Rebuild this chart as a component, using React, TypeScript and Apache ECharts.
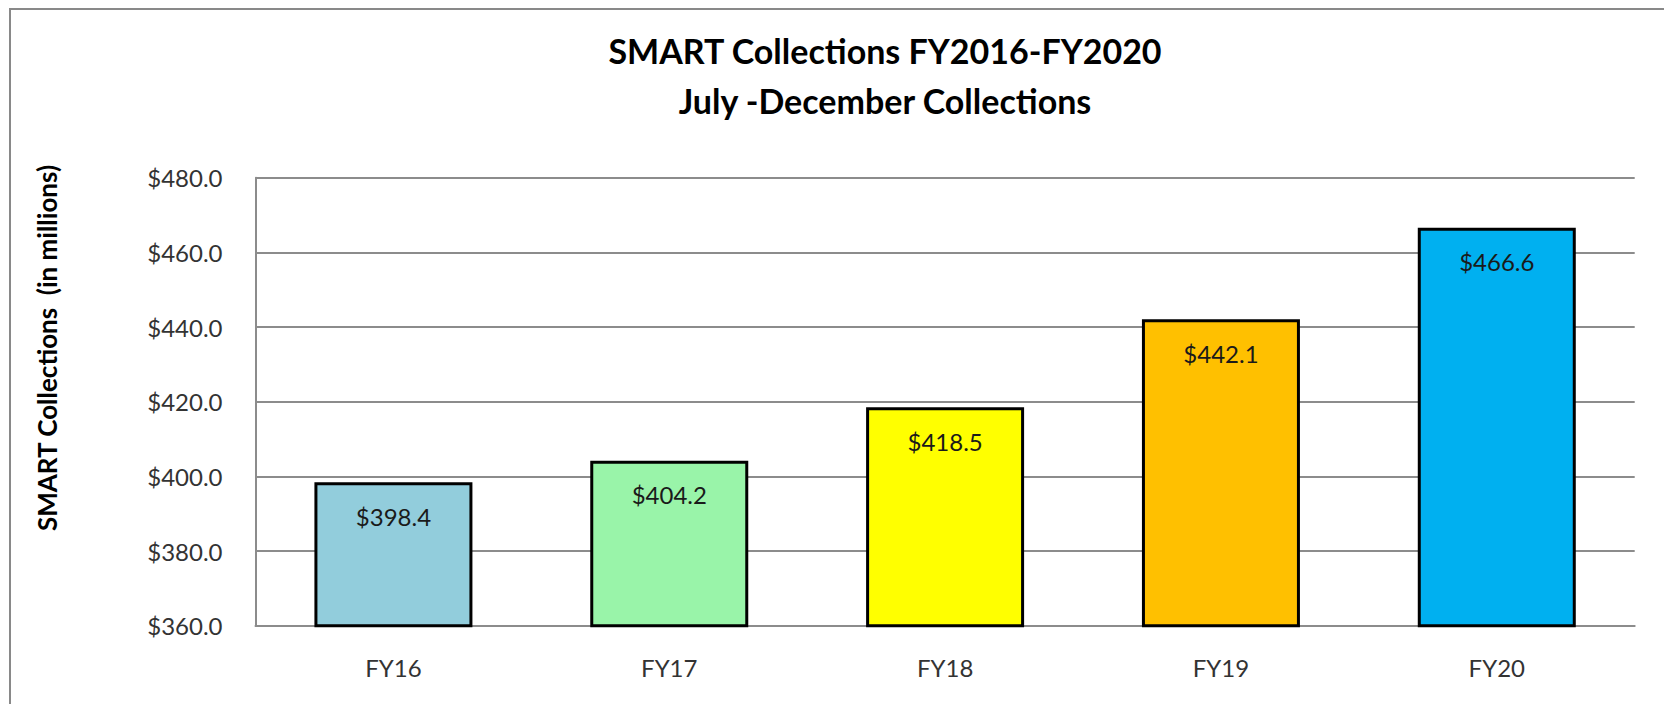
import React, { useEffect, useRef } from "react";
import * as echarts from "echarts";

const categories = ["FY16", "FY17", "FY18", "FY19", "FY20"];
const values = [398.4, 404.2, 418.5, 442.1, 466.6];
const barColors = ["#92CDDC", "#99F4A9", "#FFFF00", "#FFC000", "#00B0F0"];
const yTicks = { min: 360, max: 480, interval: 20 };
const titleLines = ["SMART Collections FY2016-FY2020", "July -December Collections"];
const yAxisTitle = "SMART Collections  (in millions)";

const FONT = "Lato, 'Noto Sans', sans-serif";

export default function App() {
  const ref = useRef<HTMLDivElement>(null);
  useEffect(() => {
    document.body.style.margin = "0";
    const chart = echarts.init(ref.current!, null, { renderer: "svg" });
    chart.setOption({
      animation: false,
      backgroundColor: "#ffffff",
      grid: { left: 255.5, right: 29.3, top: 177.7, bottom: 78.3, containLabel: false },
      xAxis: {
        type: "category",
        data: categories,
        axisLine: { show: true, lineStyle: { color: "#8c8c8c", width: 2 } },
        axisTick: { show: false },
        axisLabel: { color: "#333333", fontFamily: FONT, fontSize: 24, margin: 30 },
      },
      yAxis: {
        type: "value",
        min: yTicks.min,
        max: yTicks.max,
        interval: yTicks.interval,
        axisLine: { show: true, lineStyle: { color: "#8c8c8c", width: 2 } },
        axisTick: { show: false },
        axisLabel: {
          color: "#333333",
          fontFamily: FONT,
          fontSize: 24,
          margin: 33,
          formatter: (v: number) => "$" + v.toFixed(1),
        },
        splitLine: { show: true, lineStyle: { color: "#8c8c8c", width: 2 } },
      },
      series: [
        {
          type: "bar",
          barWidth: 158,
          data: values.map((v, i) => ({
            value: v,
            itemStyle: { color: barColors[i], borderColor: "#000000", borderWidth: 3 },
          })),
          label: {
            show: true,
            position: "insideTop",
            distance: 22,
            color: "#1a1a1a",
            fontFamily: FONT,
            fontSize: 24,
            formatter: (p: any) => "$" + p.value.toFixed(1),
          },
        },
      ],
      graphic: [
        {
          type: "rect",
          z: -10,
          shape: { x: 10, y: 9, width: 1700, height: 800 },
          style: { fill: "none", stroke: "#898989", lineWidth: 2 },
        },
        {
          type: "text",
          x: 885,
          y: 75,
          style: {
            text: titleLines.join("\n"),
            textAlign: "center",
            textVerticalAlign: "middle",
            fontFamily: FONT,
            fontWeight: "bold",
            fontSize: 34,
            lineHeight: 50,
            fill: "#000000",
          },
        },
        {
          type: "text",
          x: 47,
          y: 348,
          rotation: Math.PI / 2,
          style: {
            text: yAxisTitle,
            textAlign: "center",
            textVerticalAlign: "middle",
            fontFamily: FONT,
            fontWeight: "bold",
            fontSize: 26,
            fill: "#000000",
          },
        },
      ],
    });
    return () => chart.dispose();
  }, []);
  return (
    <div
      ref={ref}
      style={{ position: "fixed", left: 0, top: 0, width: 1664, height: 704 }}
    />
  );
}
